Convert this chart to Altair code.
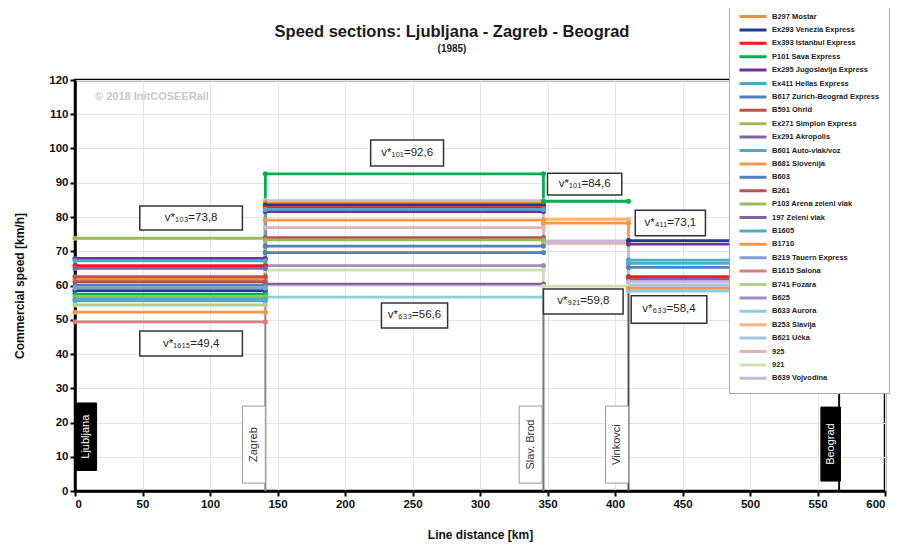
import altair as alt
import pandas as pd

FONT = "Liberation Sans"

# ---------------- data ----------------
section_km = [0, 141, 347, 410, 566]
station_names = ["Ljubljana", "Zagreb", "Slav. Brod", "Vinkovci", "Beograd"]

trains = [
    "B297 Mostar", "Ex293 Venezia Express", "Ex393 Istanbul Express", "P101 Sava Express",
    "Ex295 Jugoslavija Express", "Ex411 Hellas Express", "B617 Zurich-Beograd Express",
    "B591 Ohrid", "Ex271 Simplon Express", "Ex291 Akropolis", "B601 Auto-vlak/voz",
    "B681 Slovenija", "B603", "B261", "P103 Arena zeleni vlak", "197 Zeleni vlak",
    "B1605", "B1710", "B219 Tauern Express", "B1615 Salona", "B741 Fozara", "B625",
    "B633 Aurora", "B253 Slavija", "B621 Učka", "925", "921", "B639 Vojvodina",
]
colors = [
    "#E8913A", "#1F3A93", "#FF1A1A", "#00B050", "#7030A0", "#4BACC6", "#4F81BD",
    "#C0504D", "#9BBB59", "#8064A2", "#4BACC6", "#F79646", "#4F81BD", "#C0504D",
    "#9BBB59", "#8064A2", "#4BACC6", "#F79646", "#7F9FCF", "#D9807E", "#B5CF8C",
    "#A08DBF", "#8CCDE0", "#F9B47E", "#A9C1E3", "#E6B0AE", "#CFE0B4", "#C5B9D8",
]
# commercial speed per section [km/h]; None = train not running on the section
speed_s1 = [61.9, 58.5, 65.8, 57.5, 67.9, 55.5, 60.1, 62.6, 56.7, 65.0, 67.2, None, None, 61.1,
            73.8, None, 56.0, 52.2, 59.3, 49.4, 54.3, None, None, None, None, None, None, None]
speed_s2 = [84.2, 83.5, 82.7, 92.6, 81.6, 82.2, 71.5, 74.0, 73.3, None, None, 79.1, 69.6, None,
            None, 60.4, None, None, None, None, None, 65.8, 56.6, None, None, 76.9, 64.5, 84.8]
speed_s3 = [None, None, None, 84.6, None, None, None, None, None, None, None, 78.2, None, None,
            None, None, None, None, None, None, None, None, None, 79.3, None, 72.3, 59.8, 73.0]
speed_s4 = [None, 73.1, 62.6, None, 72.1, 67.4, 65.3, None, None, 61.8, 66.5, 59.2, None, None,
            None, None, None, None, None, None, None, None, 58.4, None, 60.1, None, None, 61.1]

ann_labels = ["v*₁₀₃=73,8", "v*₁₆₁₅=49,4", "v*₁₀₁=92,6", "v*₆₃₃=56,6",
              "v*₁₀₁=84,6", "v*₉₂₁=59,8", "v*₄₁₁=73,1", "v*₆₃₃=58,4"]
ann_x1 = [48, 48, 219, 227, 350, 347, 415, 412]
ann_x2 = [124, 124, 273, 276, 405, 406, 467, 468]
ann_y1 = [76.2, 39.4, 94.9, 47.6, 86.4, 51.7, 74.5, 49.0]
ann_y2 = [83.2, 46.7, 102.5, 54.9, 92.8, 59.0, 82.0, 57.0]

st_x1 = [0.5, 124, 329, 393, 552.5]
st_x2 = [16, 141, 346, 410, 567]
st_y1 = [6, 2.3, 2.3, 2.3, 2.9]
st_y2 = [25.7, 24.8, 24.8, 24.8, 24.5]
st_fill = ["black", "white", "white", "white", "black"]
st_text = ["white", "#333333", "#333333", "#333333", "white"]
st_stroke = ["black", "#999999", "#999999", "#999999", "black"]

rule_x = [141, 347, 410, 566]
rule_top = [56, 60, 58, 120]
rule_col = ["#888888", "#777777", "#555555", "#111111"]

# ---------------- build tables ----------------
rows = []
for i, name in enumerate(trains):
    sp = [speed_s1[i], speed_s2[i], speed_s3[i], speed_s4[i]]
    run = 0
    seq = 0
    prev = False
    for s in range(4):
        if sp[s] is None:
            if prev:
                run += 1
            prev = False
            continue
        prev = True
        for x in (section_km[s], section_km[s + 1]):
            rows.append({"train": name, "grp": f"{name}|{run}", "km": x, "v": sp[s], "seq": seq})
            seq += 1
lines_df = pd.DataFrame(rows)

ann_df = pd.DataFrame({"x1": ann_x1, "x2": ann_x2, "y1": ann_y1, "y2": ann_y2, "label": ann_labels})
ann_df["xc"] = (ann_df.x1 + ann_df.x2) / 2
ann_df["yc"] = (ann_df.y1 + ann_df.y2) / 2

st_df = pd.DataFrame({"x1": st_x1, "x2": st_x2, "y1": st_y1, "y2": st_y2, "name": station_names,
                      "fill": st_fill, "tcol": st_text, "scol": st_stroke})
st_df["xc"] = (st_df.x1 + st_df.x2) / 2
st_df["yc"] = (st_df.y1 + st_df.y2) / 2

rule_df = pd.DataFrame({"x": rule_x, "top": rule_top, "col": rule_col, "bottom": [0] * 4})

xs = alt.Scale(domain=[0, 600], nice=False, zero=False)
ys = alt.Scale(domain=[0, 120], nice=False)

x_axis = alt.Axis(values=list(range(0, 601, 50)), title="Line distance [km]", titlePadding=20,
                  labelOverlap=False)
y_axis = alt.Axis(values=list(range(0, 121, 10)), title="Commercial speed [km/h]", titlePadding=22,
                  labelOverlap=False)


def X(field):
    return alt.X(field, scale=xs, axis=x_axis)


def Y(field):
    return alt.Y(field, scale=ys, axis=y_axis)


rules = alt.Chart(rule_df).mark_rule(strokeWidth=2).encode(
    x=X("x:Q"), y=Y("bottom:Q"), y2="top:Q", color=alt.Color("col:N", scale=None),
)

lines = alt.Chart(lines_df).mark_line(
    strokeWidth=2.8, point=alt.OverlayMarkDef(size=26, filled=True)
).encode(
    x=X("km:Q"),
    y=Y("v:Q"),
    detail="grp:N",
    order="seq:Q",
    color=alt.Color(
        "train:N",
        scale=alt.Scale(domain=trains, range=colors),
        sort=trains,
        legend=alt.Legend(
            orient="none", legendX=654, legendY=-78, title=None,
            symbolType="stroke", symbolSize=729, symbolStrokeWidth=3,
            labelFontSize=7.5, labelFont=FONT, labelFontWeight="bold", labelColor="#222222",
            clipHeight=11, rowPadding=2.4, padding=9, labelLimit=200,
            strokeColor="#AAAAAA", fillColor="white", labelOffset=4,
        ),
    ),
)

ann_box = alt.Chart(ann_df).mark_rect(fill="white", stroke="#333333", strokeWidth=1.5).encode(
    x=X("x1:Q"), x2="x2:Q", y=Y("y1:Q"), y2="y2:Q"
)
ann_txt = alt.Chart(ann_df).mark_text(font=FONT, fontSize=11.5, color="#222222").encode(
    x=X("xc:Q"), y=Y("yc:Q"), text="label:N"
)

st_box = alt.Chart(st_df).mark_rect(strokeWidth=1).encode(
    x=X("x1:Q"), x2="x2:Q", y=Y("y1:Q"), y2="y2:Q",
    fill=alt.Fill("fill:N", scale=None), stroke=alt.Stroke("scol:N", scale=None),
)
st_txt = alt.Chart(st_df).mark_text(font=FONT, fontSize=11, angle=270).encode(
    x=X("xc:Q"), y=Y("yc:Q"), text="name:N",
    color=alt.Color("tcol:N", scale=None),
)

one = pd.DataFrame({"a": [0]})
watermark = alt.Chart(one).mark_text(
    text="© 2018 InitCOSEERail", font=FONT, fontSize=11, fontWeight="bold",
    color="#C8C8C8", align="left"
).encode(x=alt.value(20), y=alt.value(17))
title = alt.Chart(one).mark_text(
    text="Speed sections: Ljubljana - Zagreb - Beograd", font=FONT, fontSize=16.5,
    fontWeight="bold", color="#1A1A1A"
).encode(x=alt.value(377), y=alt.value(-48))
subtitle = alt.Chart(one).mark_text(
    text="(1985)", font=FONT, fontSize=10, fontWeight="bold", color="#1A1A1A"
).encode(x=alt.value(377), y=alt.value(-31))

chart = alt.layer(
    rules, st_box, st_txt, lines, ann_box, ann_txt, watermark, title, subtitle
).properties(
    width=810, height=411,
    autosize=alt.AutoSizeParams(type="none"),
    padding={"left": 67, "top": 72, "right": 5, "bottom": 58},
).configure_view(
    stroke="black", strokeWidth=2.5
).configure_axis(
    labelFont=FONT, labelFontSize=11.5, labelFontWeight="bold", labelColor="#111111",
    titleFont=FONT, titleFontSize=12, titleFontWeight="bold", titleColor="#111111",
    domainColor="black", domainWidth=2.5, tickColor="black", tickWidth=2, tickSize=5,
    gridColor="#E3E3E3", gridWidth=1,
)

chart.save("out.html", embed_options={"renderer": "svg", "actions": False})
